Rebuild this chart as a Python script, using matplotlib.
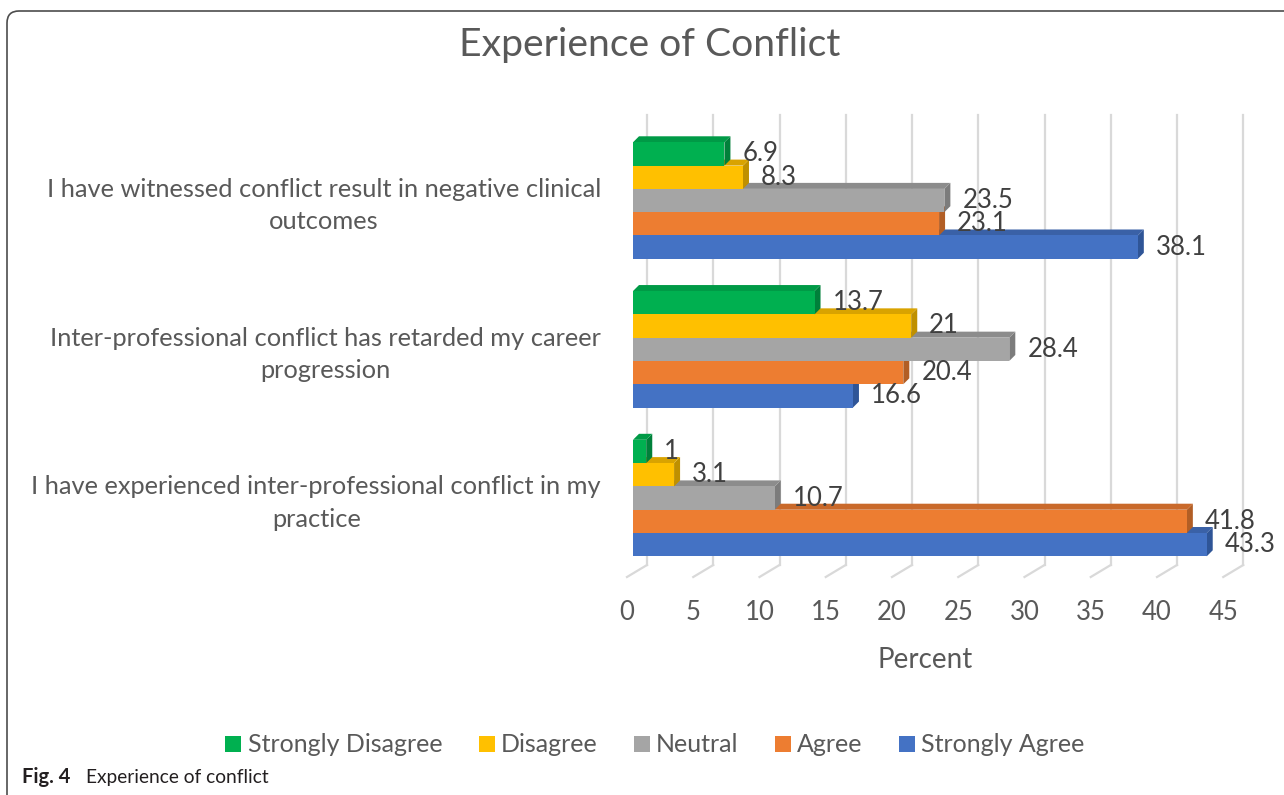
import matplotlib
matplotlib.use("Agg")
import matplotlib.pyplot as plt
from matplotlib.patches import Polygon, Patch, FancyBboxPatch

# questions, bottom to top as drawn
questions = [
    "I have experienced inter-professional conflict in my\npractice",
    "Inter-professional conflict has retarded my career\nprogression",
    "I have witnessed conflict result in negative clinical\noutcomes",
]
responses = ["Strongly Disagree", "Disagree", "Neutral", "Agree", "Strongly Agree"]
strongly_disagree = [1, 13.7, 6.9]
disagree = [3.1, 21, 8.3]
neutral = [10.7, 28.4, 23.5]
agree = [41.8, 20.4, 23.1]
strongly_agree = [43.3, 16.6, 38.1]
x_ticks = [0, 5, 10, 15, 20, 25, 30, 35, 40, 45]

series = [strongly_disagree, disagree, neutral, agree, strongly_agree]
# front, top, side colours
colors = [
    ("#00B050", "#009A46", "#00803A"),
    ("#FFC000", "#D9A300", "#BF9000"),
    ("#A5A5A5", "#8C8C8C", "#7C7C7C"),
    ("#ED7D31", "#C9692A", "#B25E25"),
    ("#4472C4", "#3A61A7", "#2F5597"),
]
text_color = "#595959"
plt.rcParams["font.family"] = ["Lato", "DejaVu Sans"]

W, H = 1284, 795
fig = plt.figure(figsize=(W / 100, H / 100), dpi=100)

ax_left, ax_bottom, ax_w, ax_h = 633, 565, 45 * 13.25, 450
ax = fig.add_axes([ax_left / W, 1 - ax_bottom / H, ax_w / W, ax_h / H])
ymin, ymax = -0.45, 2.575
ax.set_xlim(0, 45)
ax.set_ylim(ymin, ymax)
ax.axis("off")

ppx = ax_w / 45
ppy = ax_h / (ymax - ymin)
dx, dy = 6 / ppx, 6 / ppy
bar_h = 23.3 / ppy

# back wall and floor gridlines
for t in x_ticks:
    xb = t + 14 / ppx
    xf = t - 6 / ppx
    ax.plot([xb, xb], [ymin, ymax], color="#D9D9D9", lw=1.6, zorder=0, clip_on=False)
    ax.plot([xb, xf], [ymin, ymin - 12 / ppy], color="#D9D9D9", lw=1.6, zorder=0, clip_on=False)
    ax.text(xf, ymin - 47 / ppy, str(t), ha="center", va="center", fontsize=18.5,
            color=text_color, clip_on=False)

# bars: bottom series first so upper bars cover the top faces below them
offsets = [2, 1, 0, -1, -2]
for k in range(len(series) - 1, -1, -1):
    vals = series[k]
    front, top, side = colors[k]
    z = 2 + (len(series) - 1 - k) * 3
    for i, v in enumerate(vals):
        yc = i + offsets[k] * bar_h
        y0, y1 = yc - bar_h / 2, yc + bar_h / 2
        ax.add_patch(Polygon([(v, y0), (v + dx, y0 + dy), (v + dx, y1 + dy), (v, y1)],
                             closed=True, facecolor=side, edgecolor="none", zorder=z))
        ax.add_patch(Polygon([(0, y1), (dx, y1 + dy), (v + dx, y1 + dy), (v, y1)],
                             closed=True, facecolor=top, edgecolor="none", zorder=z + 1))
        ax.text(v + 18 / ppx, yc, f"{v:g}", ha="left", va="center", fontsize=18.5,
                color="#404040", zorder=40)
    ax.barh([i + offsets[k] * bar_h for i in range(len(vals))], vals, height=bar_h,
            left=0, color=front, zorder=z + 2)

for i, q in enumerate(questions):
    ax.text(-32 / ppx, i - 5 / ppy, q, ha="right", va="center", multialignment="center",
            fontsize=18.3, color=text_color, linespacing=1.5)

fig.text(650 / W, 1 - 45 / H, "Experience of Conflict", ha="center", va="center",
         fontsize=28.2, color=text_color)
fig.text(925 / W, 1 - 660 / H, "Percent", ha="center", va="center",
         fontsize=20, color=text_color)

handles = [Patch(facecolor=c[0], edgecolor="none") for c in colors]
fig.legend(handles, responses, loc="center", bbox_to_anchor=(655 / W, 1 - 745 / H),
           ncol=5, frameon=False, handlelength=0.64, handleheight=0.62,
           handletextpad=0.26, columnspacing=1.44, fontsize=18, labelcolor=text_color)

fig.text(22 / W, 1 - 777 / H, "Fig. 4", ha="left", va="center", fontsize=14.5,
         fontweight="bold", color="#231F20")
fig.text(86 / W, 1 - 777 / H, "Experience of conflict", ha="left", va="center",
         fontsize=13.8, color="#231F20")

border = FancyBboxPatch((0.07, -0.5), 14, (H - 11) / 100 + 0.5,
                        boxstyle="round,pad=0,rounding_size=0.12",
                        transform=fig.dpi_scale_trans, facecolor="none",
                        edgecolor="#4D4D4D", lw=1.2)
fig.add_artist(border)

fig.savefig("out.png", dpi=100)
